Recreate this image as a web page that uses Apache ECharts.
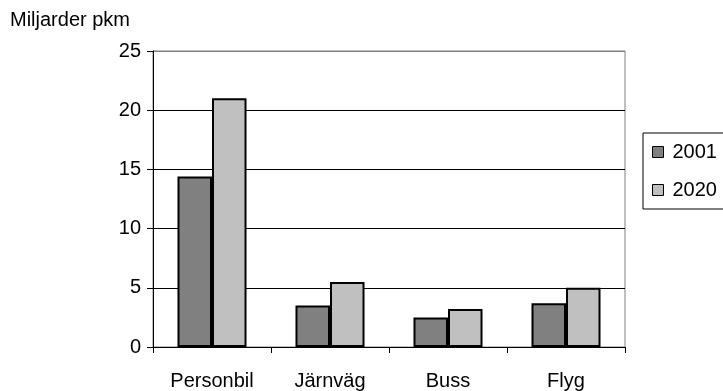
<!DOCTYPE html>
<html>
<head>
<meta charset="utf-8">
<style>
  html, body { margin: 0; padding: 0; background: #fff; }
  #chart { width: 723px; height: 391px; }
</style>
<script src="https://cdn.jsdelivr.net/npm/echarts@6/dist/echarts.min.js"></script>
</head>
<body>
<div id="chart"></div>
<script>
// Passenger traffic by mode of transport, billions of passenger-km
const categories = ['Personbil', 'Järnväg', 'Buss', 'Flyg'];
const seriesNames = ['2001', '2020'];
const values2001 = [14.4, 3.5, 2.5, 3.7];
const values2020 = [21.0, 5.5, 3.2, 5.0];
const yTicks = { min: 0, max: 25, interval: 5 };
const unitLabel = 'Miljarder pkm';

const FONT = 'Liberation Sans, Arial, sans-serif';
const chart = echarts.init(document.getElementById('chart'), null, { renderer: 'canvas' });

chart.setOption({
  animation: false,
  backgroundColor: '#ffffff',
  textStyle: { fontFamily: FONT },
  grid: {
    left: 153, right: 98, top: 51, bottom: 42,
    show: true, borderColor: '#808080', borderWidth: 1, backgroundColor: 'transparent'
  },
  graphic: [{
    type: 'text', left: 10, top: 10,
    style: { text: unitLabel, font: '20px ' + FONT, fill: '#000' }
  }],
  legend: {
    orient: 'vertical',
    left: 643, top: 133,
    padding: [9, 40, 9, 9],
    itemGap: 18,
    itemWidth: 11, itemHeight: 11,
    icon: 'rect',
    borderColor: '#000', borderWidth: 1,
    backgroundColor: '#fff',
    textStyle: { fontSize: 20, color: '#000', fontFamily: FONT, padding: [0, 0, 0, 4] },
    itemStyle: { borderColor: '#000', borderWidth: 1 },
    data: seriesNames
  },
  xAxis: {
    type: 'category',
    data: categories,
    axisLine: { lineStyle: { color: '#000', width: 1 } },
    axisTick: { show: true, alignWithLabel: false, length: 6, lineStyle: { color: '#000' } },
    axisLabel: { fontSize: 20, color: '#000', margin: 24, fontFamily: FONT },
    splitLine: { show: false }
  },
  yAxis: {
    type: 'value',
    min: yTicks.min, max: yTicks.max, interval: yTicks.interval,
    axisLine: { show: true, lineStyle: { color: '#000', width: 1 } },
    axisTick: { show: true, length: 6, lineStyle: { color: '#000' } },
    axisLabel: { fontSize: 20, color: '#000', margin: 12, fontFamily: FONT },
    splitLine: {
      show: true,
      lineStyle: { color: ['#000', '#000', '#000', '#000', '#000', '#808080'], width: 1 }
    }
  },
  series: [
    {
      name: seriesNames[0], type: 'bar', data: values2001,
      barGap: '0%', barCategoryGap: '41.5%',
      itemStyle: { color: '#808080', borderColor: '#000', borderWidth: 2 }
    },
    {
      name: seriesNames[1], type: 'bar', data: values2020,
      barGap: '0%', barCategoryGap: '41.5%',
      itemStyle: { color: '#c0c0c0', borderColor: '#000', borderWidth: 2 }
    }
  ]
});
</script>
</body>
</html>
